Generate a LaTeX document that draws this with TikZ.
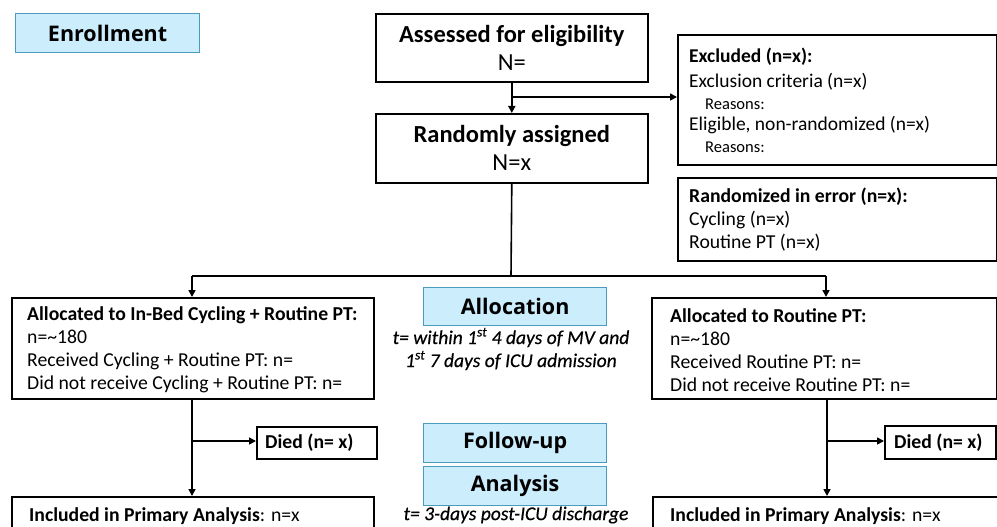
\documentclass[tikz,border=0pt]{standalone}
\usepackage{fontspec}
\setmainfont{Carlito}
\newfontfamily\labfont{Open Sans}
\newfontfamily\notefont[ItalicFeatures={FakeBold=0.5}]{Carlito}
\usetikzlibrary{arrows.meta}
\definecolor{labfill}{RGB}{204,237,251}
\definecolor{labdraw}{RGB}{74,155,190}
\begin{document}
\begin{tikzpicture}[x=1pt,y=-1pt,
 box/.style={draw=black,line width=1.6pt,inner sep=0pt,anchor=north west},
 cbox/.style={draw=black,line width=1.6pt,inner sep=0pt,anchor=north west,align=center,font=\fontsize{24.5}{28}\selectfont},
 txt/.style={inner sep=0pt,anchor=west,align=left,font=\fontsize{19.7}{23}\selectfont},
 lab/.style={draw=labdraw,fill=labfill,line width=1.2pt,inner sep=0pt,anchor=north west,font=\labfont\bfseries\fontsize{21.5}{24}\selectfont},
 conn/.style={line width=1.6pt},
 arr/.style={conn,-{Triangle[length=7pt,width=7pt]}},
 note/.style={inner sep=0pt,align=center,font=\notefont\itshape\fontsize{19.5}{23}\selectfont}]
\useasboundingbox (0,0) rectangle (997,527);
\clip (0,0) rectangle (997,527);
% phase labels
\node[lab,minimum width=184pt,minimum height=39pt] (enroll) at (15,13) {Enrollment};
\node[lab,minimum width=183pt,minimum height=38pt] (alloc) at (423,287) {Allocation};
\node[lab,minimum width=183pt,minimum height=39pt] (follow) at (423,423) {Follow-up};
\node[lab,minimum width=183pt,minimum height=39pt] (analysis) at (423,466) {Analysis};
\node[note] (t1) at (511,349) {t= within 1\textsuperscript{st} 4 days of MV and\\1\textsuperscript{st} 7 days of ICU admission};
\node[note] (t2) at (516,515) {t= 3-days post-ICU discharge};
% main boxes
\node[cbox,minimum width=272pt,minimum height=68pt] (assess) at (375,13) {\bfseries Assessed for eligibility\\N=};
\node[cbox,minimum width=272pt,minimum height=69pt] (random) at (375,113) {\bfseries Randomly assigned\\N=x};
\node[box,minimum width=319pt,minimum height=130pt] (excl) at (677,34) {};
\node[txt,font=\fontsize{19.5}{21.5}\selectfont] (excltxt) at ([xshift=12pt,yshift=-0.5pt]excl.west)
 {\textbf{Excluded (n=x):}\\[4pt]
  Exclusion criteria (n=x)\\
  \hspace*{16pt}{\fontsize{16.5}{18}\selectfont Reasons:}\\
  Eligible, non-randomized (n=x)\\
  \hspace*{16pt}{\fontsize{16.5}{18}\selectfont Reasons:}};
\node[box,minimum width=319pt,minimum height=83pt] (err) at (677,177) {};
\node[txt] (errtxt) at ([xshift=12pt]err.west)
 {\textbf{Randomized in error (n=x):}\\
  Cycling (n=x)\\
  Routine PT (n=x)};
\node[box,minimum width=362pt,minimum height=101pt] (lalloc) at (11,297) {};
\node[txt] (lalloctxt) at ([xshift=16pt,yshift=-1.5pt]lalloc.west)
 {\textbf{Allocated to In-Bed Cycling + Routine PT:}\\
  n=\textasciitilde180\\
  Received Cycling + Routine PT: n=\\
  Did not receive Cycling + Routine PT: n=};
\node[box,minimum width=345pt,minimum height=101pt] (ralloc) at (651,297) {};
\node[txt] (ralloctxt) at ([xshift=19pt,yshift=-1.5pt]ralloc.west)
 {\textbf{Allocated to Routine PT:}\\
  n=\textasciitilde180\\
  Received Routine PT: n=\\
  Did not receive Routine PT: n=};
\node[box,minimum width=120pt,minimum height=32pt] (ldied) at (256,426) {};
\node[txt] (ldiedtxt) at ([xshift=9pt]ldied.west) {\bfseries Died (n= x)};
\node[box,minimum width=111pt,minimum height=33pt] (rdied) at (884,425) {};
\node[txt] (rdiedtxt) at ([xshift=10pt]rdied.west) {\bfseries Died (n= x)};
\node[box,minimum width=362pt,minimum height=38pt] (linc) at (11,496) {};
\node[txt] (linctxt) at ([xshift=18pt]linc.west) {\textbf{Included in Primary Analysis}: n=x};
\node[box,minimum width=346pt,minimum height=38pt] (rinc) at (652,496) {};
\node[txt] (rinctxt) at ([xshift=18pt]rinc.west) {\textbf{Included in Primary Analysis}: n=x};
% connectors
\coordinate (b1) at (511,97);
\coordinate (hl) at (192,276);
\coordinate (hm) at (511,276);
\coordinate (hr) at (826,276);
\coordinate (ld) at (192,441);
\coordinate (rd) at (827,441);
\draw[arr] (assess.south) -- (random.north);
\draw[arr] (b1) -- (excl.west |- b1);
\draw[conn] (random.south) -- (hm);
\draw[conn] (hl) -- (hr);
\draw[arr] (hl) -- (hl |- lalloc.north);
\draw[arr] (hr) -- (hr |- ralloc.north);
\draw[arr] (lalloc.south -| ld) -- (linc.north -| ld);
\draw[arr] (ld) -- (ldied.west |- ld);
\draw[arr] (ralloc.south -| rd) -- (rinc.north -| rd);
\draw[arr] (rd) -- (rdied.west |- rd);
\end{tikzpicture}
\end{document}
